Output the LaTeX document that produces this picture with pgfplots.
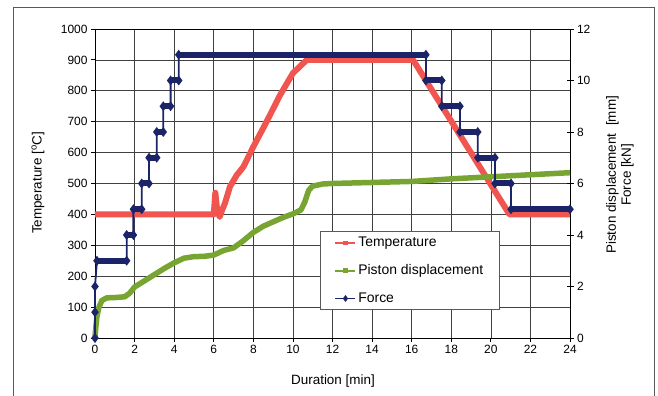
\documentclass[border=0pt]{standalone}
\usepackage{fontspec}
\setmainfont{Liberation Sans}
\usepackage{pgfplots}
\pgfplotsset{compat=1.18}
\definecolor{tred}{RGB}{240,85,80}
\definecolor{pgreen}{RGB}{120,165,50}
\definecolor{fnavy}{RGB}{28,36,105}
\begin{document}
\begin{tikzpicture}
\useasboundingbox (-95bp,-58bp) rectangle (563bp,338bp);
\draw[black!65, line width=0.9bp] (-82bp,-58bp) -- (-82bp,331bp) -- (559bp,331bp) -- (559bp,-58bp);
\begin{axis}[
  at={(0,0)}, anchor=south west,
  scale only axis, width=475bp, height=309bp,
  xmin=0, xmax=24, ymin=0, ymax=1000,
  xtick={0,2,...,24}, ytick={0,100,...,1000},
  grid=major, grid style={black!75, line width=0.6bp},
  axis line style={black, line width=0.8bp},
  tick style={black, line width=0.8bp},
  tick align=outside, major tick length=4bp,
  xtick pos=left, ytick pos=left,
  tick label style={font=\fontsize{12}{14}\selectfont},
  /pgf/number format/assume math mode=true,
  /pgf/number format/1000 sep={},
  label style={font=\fontsize{13.5}{16}\selectfont},
  xlabel={Duration [min]},
  ylabel={Temperature [\textsuperscript{o}C]},
  xlabel style={at={(axis description cs:0.501,-0.14)}, anchor=center},
  ylabel style={at={(axis description cs:-0.12,0.502)}, anchor=center},
  clip=false,
]
\addplot[tred, line width=6bp, line join=round] coordinates {
(0,400) (6.0,400) (6.08,470) (6.18,410) (6.3,392) (6.4,410) (6.57,437)
(6.82,490) (7.16,527) (7.5,554) (8.0,619) (8.67,700) (9.35,786) (10.0,857)
(10.7,900) (16.07,900) (20.94,400) (24,400)};
\end{axis}
\begin{axis}[
  at={(0,0)}, anchor=south west,
  scale only axis, width=475bp, height=309bp,
  xmin=0, xmax=24, ymin=0, ymax=12,
  axis x line=none, axis y line*=right,
  ytick={0,2,...,12},
  axis line style={black, line width=0.8bp},
  tick style={black, line width=0.8bp},
  tick align=center, major tick length=7bp,
  tick label style={font=\fontsize{12}{14}\selectfont},
  /pgf/number format/assume math mode=true,
  label style={font=\fontsize{13.5}{15}\selectfont},
  ylabel={Piston displacement\ \ [mm]\\Force [kN]},
  ylabel style={align=center, at={(axis description cs:1.105,0.528)}, anchor=center},
  clip=false,
  legend image code/.code={\draw[mark repeat=2,mark phase=2,#1] plot coordinates {(0bp,0bp) (10bp,0bp) (20bp,0bp)};},
  legend style={at={(axis description cs:0.474,0.345)}, anchor=north west,
    draw=black!65, line width=0.8bp, font=\fontsize{14}{16}\selectfont,
    row sep=12.5bp, inner xsep=14bp, inner ysep=3.5bp, cells={anchor=west}},
  legend cell align=left,
]
\addplot[pgreen, line width=5.5bp, line join=round, forget plot] coordinates {
(0,0.06) (0.05,0.48) (0.1,0.84) (0.2,1.2) (0.35,1.46) (0.6,1.56) (1.0,1.57)
(1.5,1.6) (1.75,1.74) (2.0,1.98) (2.5,2.22) (3.0,2.46) (3.5,2.7) (4.0,2.92)
(4.5,3.1) (5.0,3.16) (5.5,3.17) (6.0,3.22) (6.5,3.4) (7.0,3.5) (7.5,3.78)
(8.0,4.1) (8.5,4.34) (9.0,4.51) (9.5,4.68) (10.0,4.82) (10.4,4.97) (10.6,5.28)
(10.8,5.74) (11.0,5.9) (11.5,5.98) (12,6.0) (14,6.04) (16,6.08) (18,6.18)
(20,6.26) (22,6.34) (24,6.42)};
\addplot[fnavy, line width=6bp, unbounded coords=jump, forget plot] coordinates {
(0.1,3) (1.6,3) (1.6,nan) (1.6,4) (1.94,4) (1.94,nan) (1.94,5) (2.36,5) (2.36,nan)
(2.36,6) (2.73,6) (2.73,nan) (2.73,7) (3.12,7) (3.12,nan) (3.12,8) (3.45,8) (3.45,nan)
(3.45,9) (3.82,9) (3.82,nan) (3.82,10) (4.23,10) (4.23,nan) (4.23,11) (16.72,11) (16.72,nan)
(16.72,10) (17.52,10) (17.52,nan) (17.52,9) (18.44,9) (18.44,nan) (18.44,8) (19.34,8) (19.34,nan)
(19.34,7) (20.21,7) (20.21,nan) (20.21,6) (21.02,6) (21.02,nan) (21.02,5) (24,5)};
\addplot[fnavy, line width=1.8bp, mark=diamond*, mark size=3.5bp, forget plot] coordinates {
(0,0) (0,1) (0,2) (0.1,3) (1.6,3) (1.6,4) (1.94,4) (1.94,5) (2.36,5) (2.36,6) (2.73,6)
(2.73,7) (3.12,7) (3.12,8) (3.45,8) (3.45,9) (3.82,9) (3.82,10) (4.23,10) (4.23,11)
(16.72,11) (16.72,10) (17.52,10) (17.52,9) (18.44,9) (18.44,8) (19.34,8) (19.34,7)
(20.21,7) (20.21,6) (21.02,6) (21.02,5) (24,5)};
\addlegendimage{tred, line width=1.8bp, mark=square*, mark size=1.3bp}
\addlegendentry{Temperature}
\addlegendimage{pgreen, line width=1.8bp, mark=square*, mark size=1.3bp}
\addlegendentry{Piston displacement}
\addlegendimage{fnavy, line width=1.8bp, mark=diamond*, mark size=2bp}
\addlegendentry{Force}
\end{axis}
\end{tikzpicture}
\end{document}
